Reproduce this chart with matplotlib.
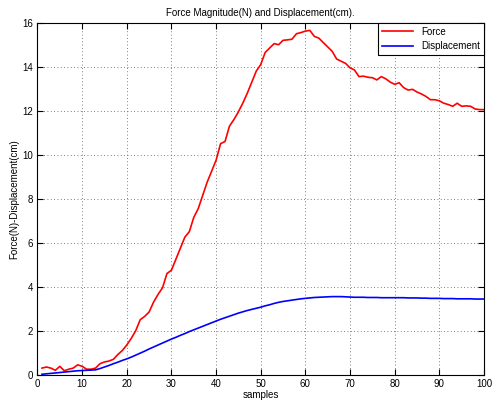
import matplotlib
matplotlib.use("Agg")
import matplotlib.pyplot as plt
import numpy as np

samples = list(range(1, 101))

force = [
    0.30, 0.35, 0.30, 0.20, 0.38, 0.18, 0.25, 0.30, 0.45, 0.38,
    0.25, 0.25, 0.30, 0.50, 0.58, 0.62, 0.70, 0.92, 1.10, 1.35,
    1.65, 2.00, 2.50, 2.65, 2.85, 3.30, 3.65, 3.95, 4.60, 4.75,
    5.25, 5.75, 6.25, 6.50, 7.15, 7.55, 8.15, 8.75, 9.25, 9.75,
    10.50, 10.60, 11.30, 11.60, 11.95, 12.35, 12.80, 13.30, 13.80, 14.10,
    14.65, 14.85, 15.05, 15.00, 15.20, 15.22, 15.25, 15.50, 15.55, 15.62,
    15.65, 15.38, 15.30, 15.10, 14.90, 14.70, 14.35, 14.25, 14.15, 13.95,
    13.85, 13.55, 13.57, 13.52, 13.50, 13.40, 13.55, 13.45, 13.30, 13.20,
    13.27, 13.05, 12.94, 12.97, 12.85, 12.76, 12.65, 12.50, 12.50, 12.45,
    12.34, 12.28, 12.20, 12.34, 12.20, 12.22, 12.20, 12.08, 12.05, 12.05,
]

displacement = [
    0.02, 0.04, 0.06, 0.08, 0.10, 0.12, 0.14, 0.16, 0.18, 0.19,
    0.20, 0.21, 0.22, 0.28, 0.35, 0.42, 0.50, 0.57, 0.65, 0.72,
    0.80, 0.89, 0.98, 1.07, 1.17, 1.26, 1.35, 1.44, 1.53, 1.62,
    1.70, 1.79, 1.87, 1.96, 2.04, 2.12, 2.20, 2.28, 2.36, 2.44,
    2.52, 2.59, 2.66, 2.73, 2.80, 2.86, 2.92, 2.97, 3.02, 3.07,
    3.13, 3.18, 3.24, 3.29, 3.33, 3.36, 3.39, 3.42, 3.45, 3.47,
    3.49, 3.51, 3.52, 3.53, 3.54, 3.55, 3.55, 3.55, 3.54, 3.53,
    3.52, 3.52, 3.52, 3.51, 3.51, 3.51, 3.50, 3.50, 3.50, 3.50,
    3.50, 3.50, 3.49, 3.49, 3.49, 3.48, 3.48, 3.47, 3.47, 3.47,
    3.46, 3.46, 3.46, 3.45, 3.45, 3.45, 3.45, 3.44, 3.44, 3.44,
]

plt.rcParams["font.family"] = ["Liberation Sans", "DejaVu Sans"]
plt.rcParams["font.size"] = 7

fig = plt.figure(figsize=(4.92, 4.04), dpi=100)
ax = fig.add_axes([0.0762, 0.0725, 0.9075, 0.8713])

ax.plot(samples, force, color="#ff0000", lw=1.2, label="Force")
ax.plot(samples, displacement, color="#0000ff", lw=1.2, label="Displacement")

ax.set_xlim(0, 100)
ax.set_ylim(0, 16)
ax.set_xticks(np.arange(0, 101, 10))
ax.set_yticks(np.arange(0, 17, 2))
ax.grid(True, linestyle=(0, (1, 3)), color="#555555", linewidth=0.6)
ax.tick_params(direction="in", top=True, right=True, length=4, width=0.8, labelsize=7, pad=3)
for s in ax.spines.values():
    s.set_linewidth(0.8)

ax.set_title("Force Magnitude(N) and Displacement(cm).", fontsize=7, pad=5)
ax.set_xlabel("samples", fontsize=7, labelpad=1)
ax.set_ylabel("Force(N)-Displacement(cm)", fontsize=7, labelpad=2)

leg = ax.legend(loc="upper right", borderaxespad=0, fancybox=False, framealpha=1,
                edgecolor="black", fontsize=7, handlelength=3.2)
leg.get_frame().set_linewidth(0.8)

fig.savefig("out.png", dpi=100)
